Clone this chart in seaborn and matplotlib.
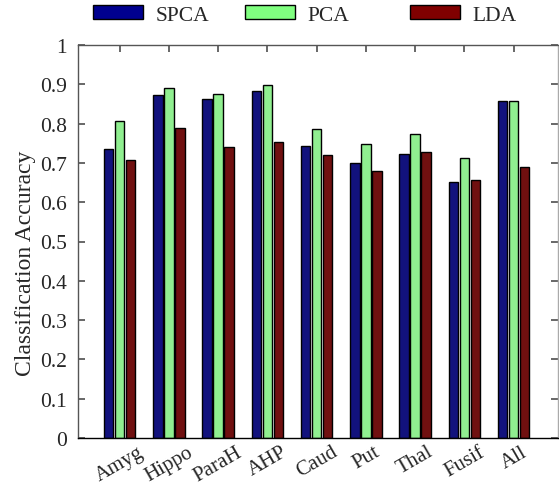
import matplotlib
matplotlib.use("Agg")
import matplotlib.pyplot as plt
import seaborn as sns
import pandas as pd
from matplotlib.patches import Patch

regions = ["Amyg", "Hippo", "ParaH", "AHP", "Caud", "Put", "Thal", "Fusif", "All"]
methods = ["SPCA", "PCA", "LDA"]
spca = [0.735, 0.872, 0.863, 0.882, 0.743, 0.700, 0.723, 0.652, 0.858]
pca = [0.807, 0.891, 0.875, 0.899, 0.786, 0.747, 0.774, 0.712, 0.858]
lda = [0.707, 0.788, 0.741, 0.752, 0.721, 0.680, 0.727, 0.656, 0.689]
yticks = [0, 0.1, 0.2, 0.3, 0.4, 0.5, 0.6, 0.7, 0.8, 0.9, 1]
ytick_labels = ["0", "0.1", "0.2", "0.3", "0.4", "0.5", "0.6", "0.7", "0.8", "0.9", "1"]
colors = ["#00008F", "#80FF80", "#800000"]

df = pd.DataFrame({
    "Region": regions * 3,
    "Method": [m for m in methods for _ in regions],
    "Accuracy": spca + pca + lda,
})

sns.set_theme(style="white")
plt.rcParams["font.family"] = ["Liberation Serif", "DejaVu Serif"]

fig = plt.figure(figsize=(5.59, 4.89), dpi=100)
ax = fig.add_axes([78 / 559, 50 / 489, 480 / 559, 393 / 489])

sns.barplot(data=df, x="Region", y="Accuracy", hue="Method", order=regions,
            hue_order=methods, palette=colors, width=0.67, gap=0.13,
            edgecolor="black", linewidth=1.0, ax=ax, legend=False)

ax.set_xlim(-0.843, 8.90)
ax.set_ylim(0, 1)
ax.set_yticks(yticks)
ax.set_yticklabels(ytick_labels, fontsize=15.5)
ax.set_xticks(range(len(regions)))
ax.set_xticklabels(regions, rotation=30, fontsize=15, ha="center")
ax.set_xlabel("")
ax.set_ylabel("Classification Accuracy", fontsize=17)
ax.yaxis.set_label_coords(-0.088, 0.448)
ax.tick_params(axis="both", direction="in", length=5, color="#555555",
               top=True, right=True, bottom=True, left=True, pad=8)
ax.tick_params(axis="x", pad=3)
for s in ax.spines.values():
    s.set_color("#555555")
    s.set_linewidth(1.0)
    s.set_visible(True)
ax.spines["right"].set_color("#AAAAAA")
ax.spines["bottom"].set_color("black")

legend_x = [93 / 559, 245 / 559, 410 / 559]
for c, m, lx in zip(colors, methods, legend_x):
    leg = fig.legend(handles=[Patch(facecolor=c, edgecolor="black", label=m)],
                     loc="center left", bbox_to_anchor=(lx, 0.967),
                     frameon=False, fontsize=15.5, handlelength=2.3,
                     handleheight=0.6, handletextpad=0.6, borderpad=0,
                     borderaxespad=0)

fig.savefig("out.png", dpi=100)
